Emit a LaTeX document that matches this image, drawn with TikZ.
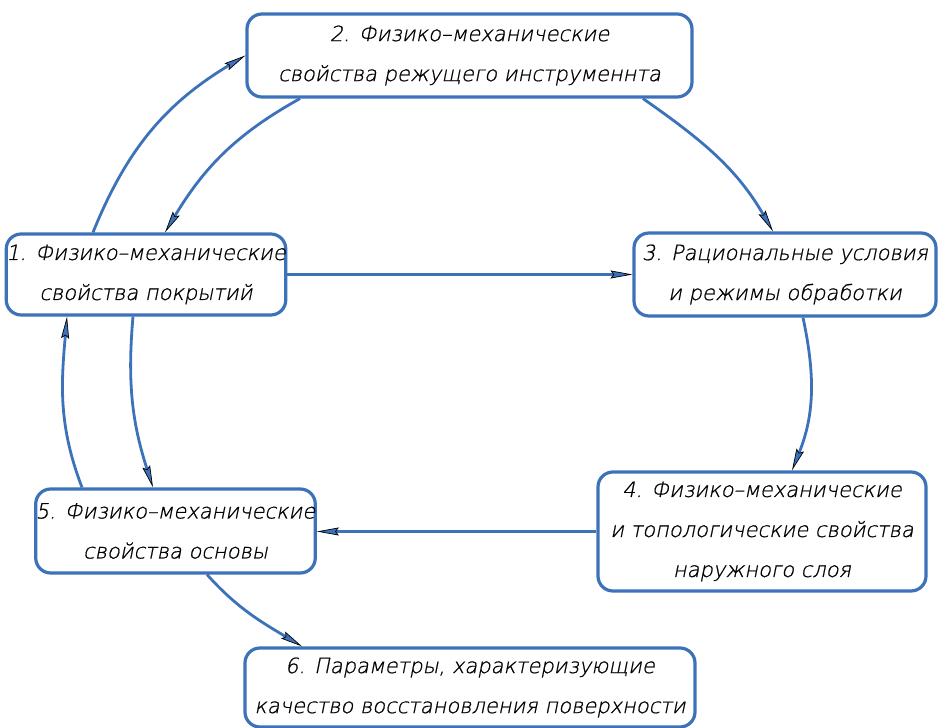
\documentclass[tikz,border=0pt]{standalone}
\usepackage{fontspec}
\newfontfamily\gost{DejaVu Sans ExtraLight}[FakeSlant=0.2,FakeBold=0.8]
\usetikzlibrary{arrows.meta}
\definecolor{myblue}{RGB}{60,114,186}
\begin{document}
\begin{tikzpicture}[x=1pt,y=1pt,
  box/.style={draw=myblue, line width=3.2pt, rounded corners=15pt, fill=white,
    align=center, text=black, inner sep=0pt,
    font=\gost\fontsize{21}{40}\selectfont},
  link/.style={draw=myblue, line width=2.8pt,
    -{Stealth[length=22pt,width=8pt,inset=3pt,fill=myblue,color=black,line width=0.7pt]}}]
\useasboundingbox (0,0) rectangle (940,728);
\fill[white] (0,0) rectangle (940,728);

\node[box, minimum width=445pt, minimum height=83pt] (b2) at (469.5,672.5)
  {2. Физико–механические\\свойства режущего инструменнта};
\node[box, minimum width=272pt, minimum height=81pt] (b1) at (146,453.5)
  {1. Физико–механические\\свойства покрытий};
\node[box, minimum width=302pt, minimum height=83pt] (b3) at (785,453.5)
  {3. Рациональные условия\\и режимы обработки};
\node[box, minimum width=328pt, minimum height=119pt] (b4) at (762,196.5)
  {4. Физико–механические\\и топологические свойства\\наружного слоя};
\node[box, minimum width=275pt, minimum height=84pt] (b5) at (175.5,197)
  {5. Физико–механические\\свойства основы};
\node[box, minimum width=450pt, minimum height=79pt] (b6) at (470,40.5)
  {6. Параметры, характеризующие\\качество восстановления поверхности};

\draw[link] ([xshift=-53pt]b1.north) to[out=68,in=211] (b2.west);
\draw[link] ([xshift=-169.5pt]b2.south) to[out=209,in=59] ([xshift=19pt]b1.north);
\draw[link] (b1.east) -- (b3.west);
\draw[link] ([xshift=173.5pt]b2.south) to[out=-35,in=120] ([xshift=-12pt]b3.north);
\draw[link] ([xshift=18pt]b3.south) to[out=-78,in=68] ([xshift=30pt]b4.north);
\draw[link] (b4.west) -- (b4.west -| b5.east);
\draw[link] ([xshift=-13pt]b1.south) to[out=-95,in=108] ([xshift=-22.5pt]b5.north);
\draw[link] ([xshift=-93.5pt]b5.north) to[out=111,in=-95] ([xshift=-79pt]b1.south);
\draw[link] ([xshift=31.5pt]b5.south) to[out=-48,in=149] ([xshift=-168pt]b6.north);
\end{tikzpicture}
\end{document}
